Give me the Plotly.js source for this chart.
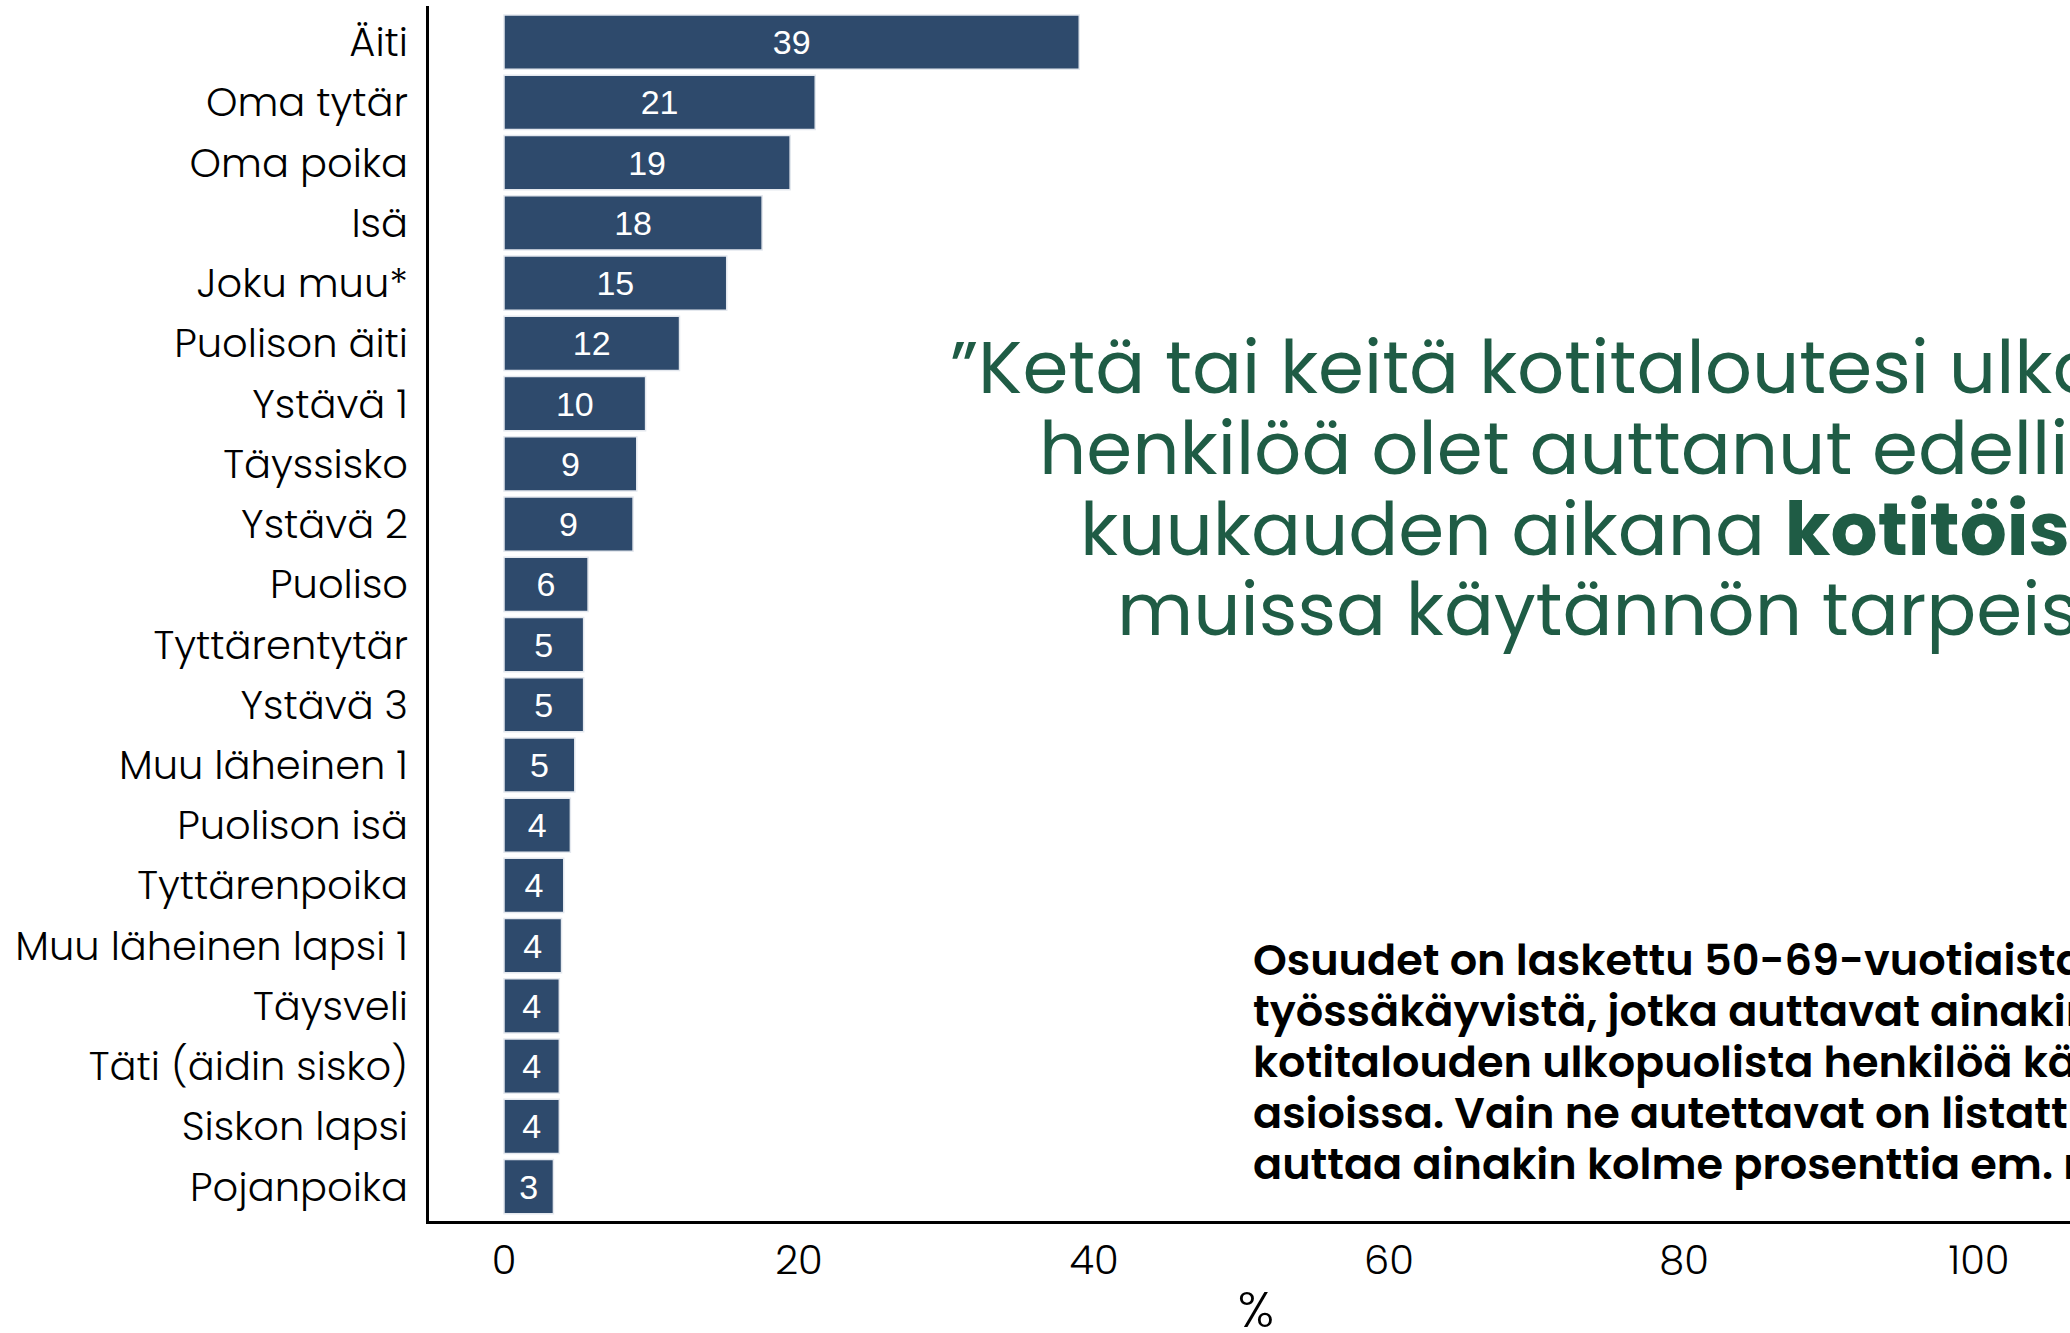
<!DOCTYPE html>
<html>
<head>
<meta charset="utf-8">
<script src="https://cdn.plot.ly/plotly-3.0.1.min.js"></script>
<style>
  html, body { margin: 0; padding: 0; overflow: hidden; background: #ffffff; }
  #chart { width: 2090px; height: 1360px; }
</style>
</head>
<body>
<div id="chart"></div>
<script>
// ---- data ----
const categories = [
  "Äiti", "Oma tytär", "Oma poika", "Isä", "Joku muu*", "Puolison äiti",
  "Ystävä 1", "Täyssisko", "Ystävä 2", "Puoliso", "Tyttärentytär", "Ystävä 3",
  "Muu läheinen 1", "Puolison isä", "Tyttärenpoika", "Muu läheinen lapsi 1",
  "Täysveli", "Täti (äidin sisko)", "Siskon lapsi", "Pojanpoika"
];
const values = [39.0, 21.1, 19.4, 17.5, 15.1, 11.9, 9.6, 9.0, 8.75, 5.7, 5.4, 5.4,
                4.8, 4.5, 4.05, 3.9, 3.75, 3.75, 3.75, 3.35];
const valueLabels = ["39", "21", "19", "18", "15", "12", "10", "9", "9", "6", "5", "5",
                     "5", "4", "4", "4", "4", "4", "4", "3"];
const xTickValues = [0, 20, 40, 60, 80, 100];
const xTickLabels = ["0", "20", "40", "60", "80", "100"];
const xAxisTitle = "%";
const questionLines = [
  "”Ketä tai keitä kotitaloutesi ulkopuolista",
  "henkilöä olet auttanut edellisen 12",
  "kuukauden aikana <b>kotitöissä</b> tai",
  "muissa käytännön tarpeissa?”"
];
const noteLines = [
  "Osuudet on laskettu 50-69-vuotiaista",
  "työssäkäyvistä, jotka auttavat ainakin yhtä",
  "kotitalouden ulkopuolista henkilöä käytännön",
  "asioissa. Vain ne autettavat on listattu, joita",
  "auttaa ainakin kolme prosenttia em. ryhmästä."
];

// ---- styles ----
const BAR_COLOR = "#2e4a6c";
const GREEN = "#1f5c45";
const LABEL_FONT = "Poppins, 'Open Sans', sans-serif";

const W = 2090, H = 1360;
const M = { l: 429, r: 7, t: 6, b: 139 };
const plotW = W - M.l - M.r, plotH = H - M.t - M.b;
const px2x = (px) => (px - M.l) / plotW;
const px2y = (py) => (H - M.b - py) / plotH;

const trace = {
  type: "bar",
  orientation: "h",
  y: categories,
  x: values,
  text: valueLabels,
  textposition: "inside",
  insidetextanchor: "middle",
  textangle: 0,
  constraintext: "none",
  textfont: { family: "'Liberation Sans', Arial, sans-serif", size: 34, color: "#ffffff" },
  marker: { color: BAR_COLOR, line: { color: "#e4e8ee", width: 1.5 } },
  hoverinfo: "skip",
  cliponaxis: false
};

const annotations = [];
const qLeft = [948, 1037, 1078, 1115];
const qMid = [367, 448, 529, 609];
questionLines.forEach((t, i) => {
  annotations.push({
    xref: "paper", yref: "paper",
    x: px2x(qLeft[i]), y: px2y(qMid[i]),
    xanchor: "left", yanchor: "middle",
    text: t, showarrow: false, align: "left",
    font: { family: LABEL_FONT, size: 74, color: GREEN, weight: 400 }
  });
});
const nMid = [960, 1011, 1062, 1113, 1164];
noteLines.forEach((t, i) => {
  annotations.push({
    xref: "paper", yref: "paper",
    x: px2x(1251), y: px2y(nMid[i]),
    xanchor: "left", yanchor: "middle",
    text: t, showarrow: false, align: "left",
    font: { family: LABEL_FONT, size: 43, color: "#000000", weight: 600 }
  });
});

const layout = {
  width: W, height: H,
  margin: M,
  paper_bgcolor: "#ffffff",
  plot_bgcolor: "#ffffff",
  showlegend: false,
  bargap: 0.1,
  xaxis: {
    range: [-5.085, -5.085 + plotW / 14.75],
    tickvals: xTickValues,
    ticktext: xTickLabels,
    showgrid: false, zeroline: false,
    showline: true, linecolor: "#000000", linewidth: 3,
    ticks: "", ticklabelstandoff: 2,
    tickfont: { family: LABEL_FONT, size: 40, color: "#000000", weight: 300 },
    title: { text: xAxisTitle, standoff: 5,
             font: { family: LABEL_FONT, size: 50, color: "#000000", weight: 300 } }
  },
  yaxis: {
    type: "category",
    range: [19.57, -0.6],
    showgrid: false, zeroline: false,
    showline: true, linecolor: "#000000", linewidth: 3,
    ticks: "", ticklabelstandoff: 10,
    tickfont: { family: LABEL_FONT, size: 40, color: "#000000", weight: 300 }
  },
  annotations: annotations
};

Plotly.newPlot("chart", [trace], layout, { displayModeBar: false, staticPlot: true });
</script>
</body>
</html>
